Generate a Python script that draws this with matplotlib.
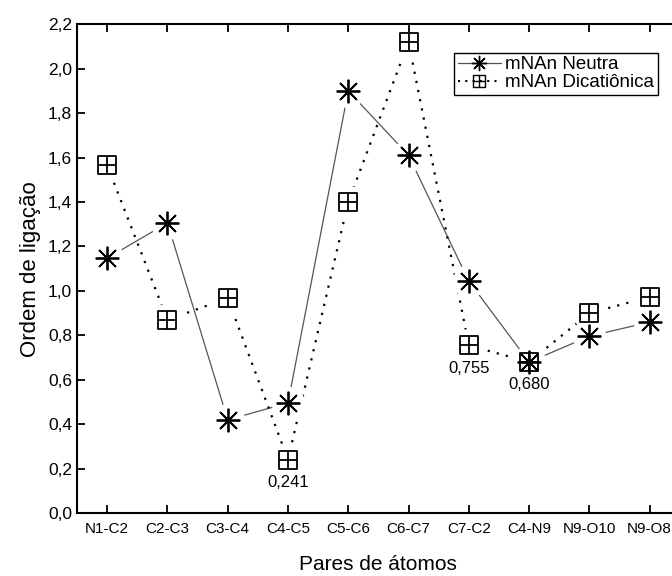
import numpy as np
import matplotlib
matplotlib.use("Agg")
import matplotlib.pyplot as plt
from matplotlib.path import Path

plt.rcParams['font.family'] = ['Liberation Sans', 'DejaVu Sans']

# dados
pares = ["N1-C2", "C2-C3", "C3-C4", "C4-C5", "C5-C6",
         "C6-C7", "C7-C2", "C4-N9", "N9-O10", "N9-O8"]
neutra = [1.147, 1.306, 0.42, 0.496, 1.90, 1.61, 1.044, 0.68, 0.796, 0.86]
dicationica = [1.565, 0.87, 0.967, 0.241, 1.40, 2.12, 0.755, 0.680, 0.90, 0.973]
rotulos = {3: "0,241", 6: "0,755", 7: "0,680"}
yticks = [0.0, 0.2, 0.4, 0.6, 0.8, 1.0, 1.2, 1.4, 1.6, 1.8, 2.0, 2.2]

# marcador quadrado com cruz (estilo Origin)
box_plus = Path(
    [(-1, -1), (1, -1), (1, 1), (-1, 1), (-1, -1),
     (0, -1), (0, 1), (-1, 0), (1, 0)],
    [Path.MOVETO, Path.LINETO, Path.LINETO, Path.LINETO, Path.CLOSEPOLY,
     Path.MOVETO, Path.LINETO, Path.MOVETO, Path.LINETO])
asterisco = (8, 2, 0)

fig = plt.figure(figsize=(6.72, 5.76), dpi=100)
ax = fig.add_axes([0.1146, 0.109, 0.897, 0.849])

x = np.arange(len(pares))

# linhas
ax.plot(x, neutra, color="#555555", lw=0.9, zorder=2)
ax.plot(x, dicationica, color="black", lw=1.6, ls=(0, (1, 3.2)), zorder=2)
# "buracos" em volta dos simbolos
ax.plot(x, neutra, ls="none", marker="o", ms=24, mfc="white", mec="none", zorder=3)
ax.plot(x, dicationica, ls="none", marker="o", ms=24, mfc="white", mec="none", zorder=3)
# simbolos
ax.plot(x, neutra, ls="none", marker=asterisco, ms=17, mec="black", mew=1.3, zorder=4)
ax.plot(x, dicationica, ls="none", marker=box_plus, ms=13.5, mfc="none",
        mec="black", mew=1.3, zorder=4)

for i, txt in rotulos.items():
    ax.annotate(txt, (x[i], dicationica[i]), xytext=(0, -11),
                textcoords="offset points", ha="center", va="top", fontsize=12,
                zorder=5)

# legenda
h1, = ax.plot([], [], color="#555555", lw=0.9, marker=asterisco, ms=11,
              mec="black", mew=1.0)
h2, = ax.plot([], [], color="black", lw=1.5, ls=(0, (1, 2.5)), marker=box_plus,
              ms=8, mfc="none", mec="black", mew=1.0)
leg = ax.legend([h1, h2], ["mNAn Neutra", "mNAn Dicatiônica"],
                loc="upper left", bbox_to_anchor=(0.625, 0.942),
                fontsize=13.5, frameon=True, fancybox=False, framealpha=1,
                handlelength=2.3, handletextpad=0.25, borderpad=0.2,
                labelspacing=0.05, borderaxespad=0)
leg.get_frame().set_edgecolor("black")
leg.get_frame().set_linewidth(1.0)
leg.set_zorder(6)

ax.set_xlim(-0.5, len(pares) - 0.5)
ax.set_ylim(0, 2.2)
ax.set_xticks(x)
ax.set_xticklabels(pares, fontsize=11)
ax.set_yticks(yticks)
ax.set_yticklabels([("%.1f" % v).replace(".", ",") for v in yticks], fontsize=12.5)
ax.tick_params(direction="in", length=6, width=1.3, top=True, right=True)
ax.tick_params(axis="x", pad=6)
for s in ax.spines.values():
    s.set_linewidth(1.5)
    s.set_zorder(5)
ax.xaxis.set_zorder(5)
ax.yaxis.set_zorder(5)

ax.set_xlabel("Pares de átomos", fontsize=15, labelpad=14)
ax.set_ylabel("Ordem de ligação", fontsize=16, labelpad=5)

fig.savefig("out.png", dpi=100)
